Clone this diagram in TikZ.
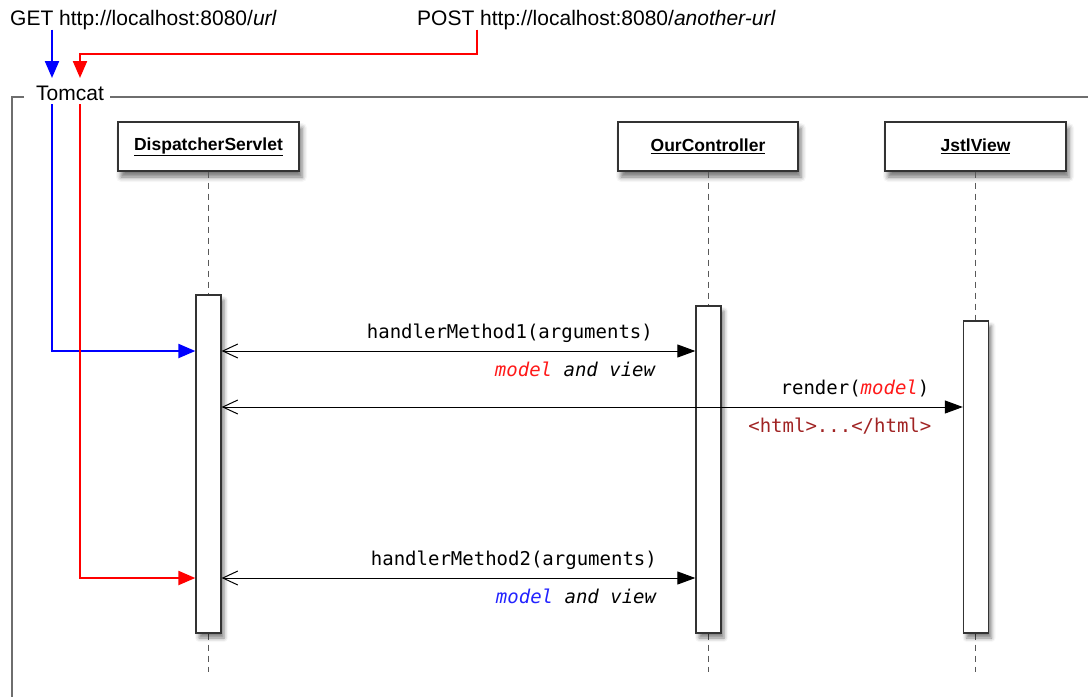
\documentclass[tikz,border=0pt]{standalone}
\usepackage{fontspec}
\setmainfont{Liberation Sans}
\setmonofont{DejaVu Sans Mono}
\usetikzlibrary{arrows.meta,shadows.blur}
\definecolor{htmlred}{RGB}{160,35,35}
\definecolor{modelred}{RGB}{255,25,25}
\definecolor{modelblue}{RGB}{35,35,255}
\definecolor{framegray}{RGB}{110,110,110}
\tikzset{
  head/.style={draw=black!80, line width=1.3pt, fill=white, minimum width=181pt, minimum height=49pt,
    font=\fontsize{17.5}{20}\selectfont\bfseries,
    blur shadow={shadow xshift=3pt, shadow yshift=-6pt, shadow blur radius=5pt, shadow opacity=55}},
  act/.style={draw=black!80, line width=1.3pt, fill=white, minimum width=25pt, inner sep=0pt,
    blur shadow={shadow xshift=3pt, shadow yshift=-5pt, shadow blur radius=4pt, shadow opacity=50}},
  life/.style={draw=black!65, line width=1pt, dash pattern=on 6pt off 5pt},
  msg/.style={line width=1pt, {Straight Barb[length=15pt,width=14pt,line width=1pt]}-{Triangle[length=18pt,width=13pt]}},
  req/.style={line width=2.2pt, -{Triangle[length=17pt,width=14pt]}},
  frame/.style={draw=framegray, line width=1.3pt},
  url/.style={font=\fontsize{21}{25}\selectfont, inner sep=0pt},
  callup/.style={font=\ttfamily\fontsize{19}{22}\selectfont, anchor=base east, inner sep=0pt, yshift=13pt},
  calldown/.style={font=\ttfamily\fontsize{19}{22}\selectfont, anchor=base east, inner sep=0pt, yshift=-25pt},
}
\begin{document}
\begin{tikzpicture}[x=1pt,y=-1pt]
\useasboundingbox (0,0) rectangle (1088,697);

\node[url, anchor=base west] (get) at (10,25) {GET http://localhost:8080/\textit{url}};
\node[url, anchor=base west] (post) at (417,25) {POST http://localhost:8080/\textit{another-url}};
\node[url, anchor=base west] (tomcat) at (36,100) {Tomcat};

% Tomcat frame
\draw[frame] (24,97) -- (12,97) -- (12,697);
\draw[frame] (110,97) -- (1088,97);

% lifelines
\coordinate (bot) at (0,672);
\node[head] (ds) at (208.5,146.5) {\underline{DispatcherServlet}};
\node[head, minimum width=180pt] (oc) at (708,146.5) {\underline{OurController}};
\node[head] (jv) at (975.5,146.5) {\underline{JstlView}};
\draw[life] (ds.south) -- (ds.south |- bot);
\draw[life] (oc.south) -- (oc.south |- bot);
\draw[life] (jv.south) -- (jv.south |- bot);

\node[act, minimum height=338pt] (dsa) at (208.5,464) {};
\node[act, minimum height=327pt] (oca) at (708.5,469.5) {};
\node[act, minimum height=312pt] (jva) at (976,477) {};

% requests
\coordinate (getin) at (52,78);
\coordinate (postout) at (477,54);
\coordinate (postin) at (80,78);
\coordinate (getdown) at (52,104);
\coordinate (postdown) at (80,104);
\coordinate (m1) at (0,351);
\coordinate (m2) at (0,407);
\coordinate (m3) at (0,578);
\draw[req, blue] (get.south -| getin) -- (getin);
\draw[req, red] (post.south -| postout) -- (postout) -| (postin);
\draw[req, blue] (getdown) |- (dsa.west |- m1);
\draw[req, red] (postdown) |- (dsa.west |- m3);

% messages
\draw[msg] (dsa.east |- m1) -- (oca.west |- m1)
  node[callup, xshift=-42pt] {handlerMethod1(arguments)}
  node[calldown, xshift=-39pt] {\textcolor{modelred}{\textit{model}} \textit{and view}};
\draw[msg] (dsa.east |- m2) -- (jva.west |- m2)
  node[callup, xshift=-33pt] {render(\textcolor{modelred}{\textit{model}})}
  node[calldown, xshift=-31pt, text=htmlred] {<html>...</html>};
\draw[msg] (dsa.east |- m3) -- (oca.west |- m3)
  node[callup, xshift=-38pt] {handlerMethod2(arguments)}
  node[calldown, xshift=-38pt] {\textcolor{modelblue}{\textit{model}} \textit{and view}};
\end{tikzpicture}
\end{document}
